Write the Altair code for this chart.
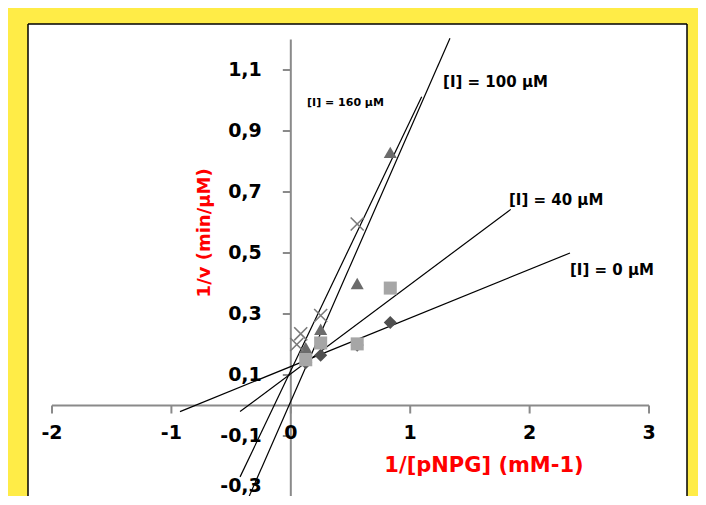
import altair as alt
import pandas as pd

# ---------------- data ----------------
x_ticks = [-2, -1, 0, 1, 2, 3]
x_tick_labels = ["-2", "-1", "0", "1", "2", "3"]
y_ticks = [-0.3, -0.1, 0.1, 0.3, 0.5, 0.7, 0.9, 1.1]
y_tick_labels = ["-0,3", "-0,1", "0,1", "0,3", "0,5", "0,7", "0,9", "1,1"]

series_names = ["[I] = 0 µM", "[I] = 40 µM", "[I] = 100 µM", "[I] = 160 µM"]

# measured points (1/[pNPG], 1/v)
pts_0_x = [0.833, 0.556, 0.25, 0.125]
pts_0_y = [0.272, 0.198, 0.165, 0.14]
pts_40_x = [0.833, 0.556, 0.25, 0.125]
pts_40_y = [0.385, 0.202, 0.205, 0.15]
pts_100_x = [0.833, 0.556, 0.25, 0.125]
pts_100_y = [0.83, 0.40, 0.25, 0.19]
pts_160_x = [0.556, 0.25, 0.083, 0.05]
pts_160_y = [0.595, 0.295, 0.235, 0.20]

# fitted lines (end points)
line_0_x = [-0.928, 2.338]
line_0_y = [-0.020, 0.500]
line_40_x = [-0.425, 1.842]
line_40_y = [-0.020, 0.643]
line_100_x = [-0.356, 1.333]
line_100_y = [-0.304, 1.204]
line_160_x = [-0.425, 1.096]
line_160_y = [-0.234, 1.0125]

# line label anchors
label_x = [2.338, 1.827, 1.275, 0.136]
label_y = [0.444, 0.674, 1.062, 0.992]
label_size = [15, 15, 15, 11]

x_title = "1/[pNPG] (mM-1)"
y_title = "1/v (min/µM)"

# ---------------- tables ----------------
FONT = "DejaVu Sans"
W, H = 659, 472
xs = alt.Scale(domain=[-2.201, 3.318], nice=False, zero=False)
ys = alt.Scale(domain=[-0.2967, 1.2508], nice=False, zero=False)

pts = pd.DataFrame({
    "x": pts_0_x + pts_40_x + pts_100_x,
    "y": pts_0_y + pts_40_y + pts_100_y,
    "s": [series_names[0]] * 4 + [series_names[1]] * 4 + [series_names[2]] * 4,
})
pts_x = pd.DataFrame({"x": pts_160_x, "y": pts_160_y, "s": series_names[3]})

lines = pd.DataFrame({
    "x": line_0_x + line_40_x + line_100_x + line_160_x,
    "y": line_0_y + line_40_y + line_100_y + line_160_y,
    "s": sum([[n] * 2 for n in series_names], []),
})
labels = pd.DataFrame({"x": label_x, "y": label_y, "t": series_names, "fs": label_size})

xaxis = pd.DataFrame({"x": [x_ticks[0]], "x2": [x_ticks[-1]], "y": [0]})
yaxis = pd.DataFrame({"y": [y_ticks[0]], "y2": [1.2], "x": [0]})
xt = pd.DataFrame({"v": x_ticks, "t": x_tick_labels, "z": 0})
yt = pd.DataFrame({"v": y_ticks, "t": y_tick_labels, "z": 0})
yt_main = yt.iloc[1:]
yt_low = yt.iloc[[0]]

AX = "#8a8a8a"

# frame of the white plot box (left, top, right sides)
frame = alt.layer(
    alt.Chart().mark_rule(color="black", strokeWidth=1.5).encode(
        x=alt.value(0), y=alt.value(0), y2=alt.value(H + 5)),
    alt.Chart().mark_rule(color="black", strokeWidth=1.5).encode(
        x=alt.value(0), x2=alt.value(W), y=alt.value(0)),
    alt.Chart().mark_rule(color="black", strokeWidth=1.5).encode(
        x=alt.value(W), y=alt.value(0), y2=alt.value(H + 5)),
)

x_axis_line = alt.Chart(xaxis).mark_rule(color=AX, strokeWidth=2).encode(
    x=alt.X("x:Q", scale=xs, axis=None), x2="x2:Q", y=alt.Y("y:Q", scale=ys, axis=None))
y_axis_line = alt.Chart(yaxis).mark_rule(color=AX, strokeWidth=2).encode(
    y=alt.Y("y:Q", scale=ys, axis=None), y2="y2:Q", x=alt.X("x:Q", scale=xs, axis=None))

x_tick_marks = alt.Chart(xt).mark_rule(color=AX, strokeWidth=2, y2Offset=8).encode(
    x=alt.X("v:Q", scale=xs, axis=None), y=alt.Y("z:Q", scale=ys, axis=None), y2="z:Q")
y_tick_marks = alt.Chart(yt).mark_rule(color=AX, strokeWidth=2, x2Offset=-8).encode(
    y=alt.Y("v:Q", scale=ys, axis=None), x=alt.X("z:Q", scale=xs, axis=None), x2="z:Q")

x_tick_text = alt.Chart(xt).mark_text(
    font=FONT, fontSize=19, fontWeight="bold", color="black", dy=27,
    align="center", baseline="middle").encode(
    x=alt.X("v:Q", scale=xs, axis=None), y=alt.Y("z:Q", scale=ys, axis=None), text="t:N")
y_tick_text = alt.Chart(yt_main).mark_text(
    font=FONT, fontSize=19, fontWeight="bold", color="black", dx=-29,
    align="right", baseline="middle").encode(
    y=alt.Y("v:Q", scale=ys, axis=None), x=alt.X("z:Q", scale=xs, axis=None), text="t:N")
y_tick_text_low = alt.Chart(yt_low).mark_text(
    font=FONT, fontSize=19, fontWeight="bold", color="black", dx=-29, dy=-1,
    align="right", baseline="bottom").encode(
    y=alt.Y("v:Q", scale=ys, axis=None), x=alt.X("z:Q", scale=xs, axis=None), text="t:N")

line_layer = alt.Chart(lines).mark_line(color="black", strokeWidth=1.2).encode(
    x=alt.X("x:Q", scale=xs, axis=None), y=alt.Y("y:Q", scale=ys, axis=None),
    detail="s:N")

point_layer = alt.Chart(pts).mark_point(filled=True, opacity=1, size=170).encode(
    x=alt.X("x:Q", scale=xs, axis=None), y=alt.Y("y:Q", scale=ys, axis=None),
    shape=alt.Shape("s:N", scale=alt.Scale(domain=series_names[:3],
                    range=["diamond", "square", "triangle-up"]), legend=None),
    color=alt.Color("s:N", scale=alt.Scale(domain=series_names[:3],
                    range=["#505050", "#a6a6a6", "#6b6b6b"]), legend=None))

x_layer = alt.Chart(pts_x).mark_point(
    shape="M-1,-1L1,1M-1,1L1,-1", filled=False, size=170, color="#7a7a7a",
    strokeWidth=1.6, opacity=1).encode(
    x=alt.X("x:Q", scale=xs, axis=None), y=alt.Y("y:Q", scale=ys, axis=None))

label_layer = alt.Chart(labels).mark_text(
    font=FONT, fontWeight="bold", color="black", align="left", baseline="middle").encode(
    x=alt.X("x:Q", scale=xs, axis=None), y=alt.Y("y:Q", scale=ys, axis=None),
    text="t:N", size=alt.Size("fs:Q", scale=None, legend=None))

titles = pd.DataFrame({"x": [1.618, -0.72], "y": [-0.198, 0.566], "t": [x_title, y_title]})
x_title_layer = alt.Chart(titles.iloc[[0]]).mark_text(
    font=FONT, fontSize=21, fontWeight="bold", color="#ff0000",
    align="center", baseline="middle").encode(
    x=alt.X("x:Q", scale=xs, axis=None), y=alt.Y("y:Q", scale=ys, axis=None), text="t:N")
y_title_layer = alt.Chart(titles.iloc[[1]]).mark_text(
    font=FONT, fontSize=18, fontWeight="bold", color="#ff0000", angle=270,
    align="center", baseline="middle").encode(
    x=alt.X("x:Q", scale=xs, axis=None), y=alt.Y("y:Q", scale=ys, axis=None), text="t:N")

chart = alt.layer(
    frame, x_axis_line, y_axis_line, x_tick_marks, y_tick_marks, x_tick_text, y_tick_text,
    y_tick_text_low, line_layer, point_layer, x_layer, label_layer, x_title_layer,
    y_title_layer,
).properties(
    width=W, height=H,
    autosize=alt.AutoSizeParams(type="none"),
    padding={"left": 20, "top": 16, "right": 11, "bottom": 0},
    background="#ffec47",
).configure_view(
    fill="white", strokeWidth=0,
)

chart.save("out.html", embed_options={"renderer": "svg", "actions": False})
